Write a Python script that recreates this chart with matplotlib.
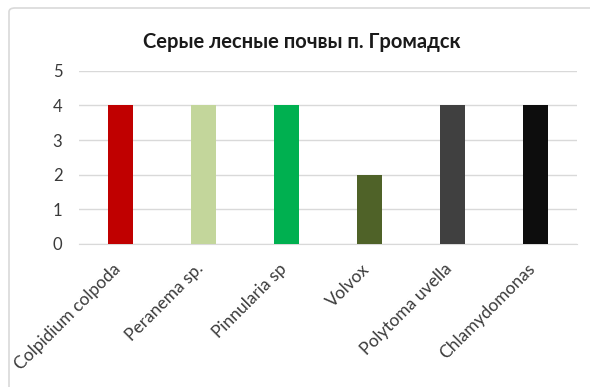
import matplotlib.pyplot as plt
import matplotlib.transforms as mtransforms
from matplotlib.patches import FancyBboxPatch

species = ['Colpidium colpoda', 'Peranema sp.', 'Pinnularia sp', 'Volvox',
           'Polytoma uvella', 'Chlamydomonas']
scores = [4, 4, 4, 2, 4, 4]
bar_colors = ['#C00000', '#C3D69B', '#00B050', '#4F6228', '#404040', '#0D0D0D']
title = 'Серые лесные почвы п. Громадск'

plt.rcParams['font.family'] = ['Lato', 'DejaVu Sans']

fig = plt.figure(figsize=(5.9, 3.87), dpi=100)
W, H = 590, 387

# chart frame, kept behind the axes
frame = FancyBboxPatch((9 / W, -0.1), 1.2, 1.1 - 8 / H,
                       boxstyle='round,pad=0,rounding_size=0.01',
                       transform=fig.transFigure, facecolor='white',
                       edgecolor='#D9D9D9', linewidth=1.2, zorder=-5)
fig.patches.append(frame)

ax = fig.add_axes([79 / W, 1 - 244 / H, (577 - 79) / W, (244 - 70.7) / H])
ax.set_zorder(2)
ax.set_facecolor('none')
x = range(len(species))
ax.bar(x, scores, width=0.31, color=bar_colors, zorder=3)

ax.set_xlim(-0.5, len(species) - 0.5)
ax.set_ylim(0, 5)
ax.set_yticks(range(0, 6))
ax.grid(axis='y', color='#D9D9D9', linewidth=1, zorder=0)
for s in ['top', 'right', 'left']:
    ax.spines[s].set_visible(False)
ax.spines['bottom'].set_color('#D9D9D9')
ax.tick_params(axis='both', length=0, labelsize=12, colors='#3a3a3a')
ax.tick_params(axis='y', pad=12)
ax.tick_params(axis='x', labelsize=12.5, pad=12)
ax.set_xticks(list(x))
ax.set_xticklabels(species, rotation=45, ha='right', rotation_mode='anchor')

# nudge the slanted labels a little to the left
shift = mtransforms.ScaledTranslation(-6 / 72, 0, fig.dpi_scale_trans)
for lbl in ax.get_xticklabels():
    lbl.set_transform(lbl.get_transform() + shift)

fig.text(302 / W, 1 - 42 / H, title, ha='center', va='center',
         fontsize=14.5, fontweight='bold', color='#1a1a1a', zorder=3)

fig.savefig('out.png', dpi=100)
